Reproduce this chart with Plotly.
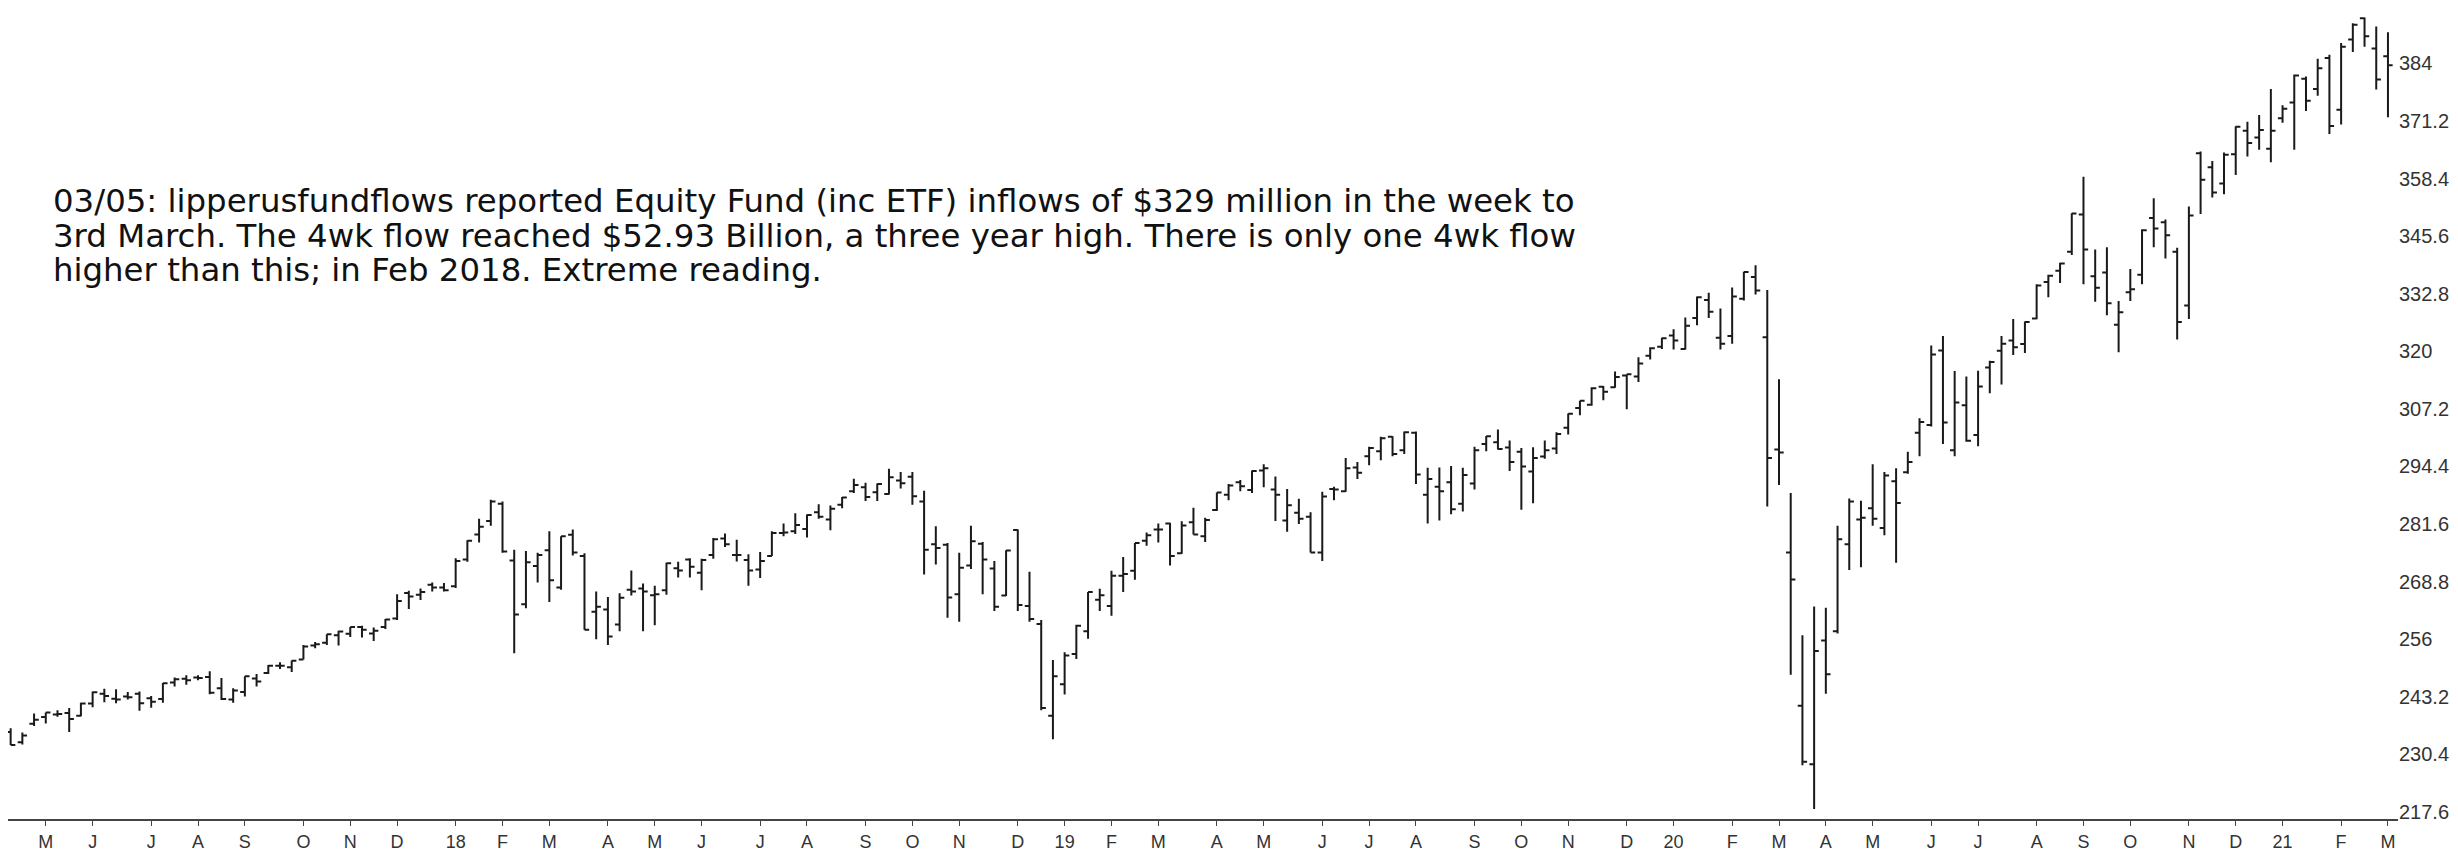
"""
Weekly SPY bar chart with the lipperusfundflows note (03/05/2021).
"""

import pandas as pd
import plotly.graph_objects as go

# weekly bars, Friday week-ending dates
WEEK_START = "2017-04-14"
N_WEEKS = 204

OPEN = [
    # 2017
    235.4, 233.1, 237.2, 238.7, 239.3, 239.6, 239.0, 241.7, 243.9, 242.8,
    243.3, 243.9, 242.9, 242.7, 246.4, 247.2, 247.5, 247.6, 245.1, 242.6,
    244.3, 247.3, 248.5, 250.1, 249.8, 251.5, 254.6, 255.2, 256.9, 257.2,
    258.7, 257.3, 258.7, 260.6, 266.3, 265.9, 268.1, 267.5,
    # 2018
    267.8, 273.7, 279.3, 282.3, 286.1, 273.5, 263.8, 272.3, 275.8, 267.5,
    279.2, 274.5, 262.1, 262.6, 259.3, 267.0, 267.3, 265.8, 266.9, 271.8,
    273.7, 270.8, 274.7, 278.4, 274.7, 273.6, 271.5, 274.5, 279.6, 280.0,
    280.5, 284.2, 282.6, 285.9, 288.9, 289.8, 288.7, 288.3, 291.3, 292.1,
    286.6, 277.1, 277.0, 266.0, 272.4, 277.2, 271.7, 265.7, 280.3, 263.4,
    259.4, 239.0,
    # 2019
    246.0, 252.7, 257.8, 264.8, 263.4, 270.1, 271.2, 277.9, 280.4, 281.7,
    275.1, 282.0, 278.9, 284.7, 288.1, 290.9, 289.2, 293.5, 289.3, 282.4,
    284.1, 283.2, 275.3, 289.4, 288.9, 294.2, 296.7, 297.8, 301.0, 298.0,
    301.9, 288.1, 289.9, 290.9, 286.1, 290.6, 299.4, 299.8, 298.6, 297.7,
    293.3, 296.6, 298.4, 303.0, 307.4, 308.1, 312.1, 312.0, 314.6, 314.4,
    319.0, 321.0,
    # 2020
    323.5, 320.5, 327.4, 331.4, 323.0, 323.4, 331.7, 336.5, 323.1, 298.2,
    275.3, 241.2, 228.2, 255.7, 257.8, 277.1, 282.6, 285.1, 280.7, 291.1,
    293.1, 301.9, 303.6, 320.2, 298.0, 308.0, 301.4, 316.4, 320.1, 322.4,
    321.6, 327.3, 335.4, 337.9, 342.1, 350.4, 336.7, 337.5, 325.9, 333.1,
    337.0, 349.6, 348.7, 342.1, 330.2, 364.0, 360.9, 357.3, 363.8, 369.0,
    367.5, 365.0, 371.8,
    # 2021
    375.3, 380.6, 378.3, 385.2, 373.7, 389.3, 394.0, 387.3, 385.6,
]

HIGH = [
    236.2, 235.3, 239.5, 239.7, 240.2, 240.7, 241.9, 244.4, 245.0, 244.9,
    244.3, 244.4, 243.4, 246.3, 247.5, 248.0, 248.0, 248.9, 247.4, 245.1,
    247.8, 248.3, 250.3, 250.9, 251.3, 254.7, 255.4, 257.1, 257.9, 258.7,
    259.0, 258.6, 260.5, 266.0, 266.8, 267.3, 268.6, 268.5,
    274.0, 278.0, 282.8, 287.0, 286.6, 275.9, 275.6, 275.2, 280.0, 278.9,
    280.4, 275.1, 266.6, 265.4, 266.2, 271.3, 268.4, 267.9, 273.0, 273.2,
    274.0, 273.9, 278.5, 279.5, 278.1, 274.9, 275.4, 280.0, 281.7, 284.0,
    283.7, 286.0, 285.7, 287.6, 291.7, 290.8, 290.6, 293.9, 293.2, 293.2,
    289.0, 281.1, 277.4, 275.2, 281.2, 277.6, 273.4, 275.8, 280.4, 271.0,
    260.3, 251.4,
    253.1, 259.2, 266.5, 267.2, 271.2, 274.3, 277.4, 279.7, 281.7, 281.9,
    282.2, 285.2, 283.0, 288.6, 290.5, 291.4, 293.5, 294.9, 292.2, 289.4,
    287.2, 284.2, 288.8, 289.9, 296.3, 295.4, 298.8, 301.0, 301.1, 302.2,
    302.2, 294.1, 294.2, 294.5, 294.1, 298.8, 301.2, 302.6, 300.2, 298.5,
    298.7, 300.2, 302.0, 306.2, 309.0, 312.0, 312.3, 315.5, 314.9, 318.7,
    320.9, 323.0,
    324.9, 327.5, 332.2, 333.0, 329.5, 334.2, 337.7, 339.1, 333.6, 313.8,
    288.5, 256.9, 263.3, 263.0, 281.2, 287.3, 286.8, 294.9, 293.2, 294.0,
    297.7, 305.1, 321.3, 323.4, 315.6, 314.4, 315.7, 317.9, 323.4, 327.2,
    326.6, 334.9, 337.0, 339.7, 350.7, 358.8, 342.6, 343.1, 331.2, 338.3,
    347.1, 354.0, 349.3, 343.0, 352.2, 364.4, 362.3, 364.2, 370.0, 371.0,
    372.5, 378.3, 374.7,
    381.5, 381.1, 385.0, 385.9, 388.5, 392.9, 394.2, 392.2, 390.9,
]

LOW = [
    232.5, 232.6, 236.7, 237.3, 238.8, 235.4, 238.9, 240.9, 242.0, 241.8,
    242.6, 240.1, 240.8, 241.9, 245.5, 245.9, 246.9, 243.8, 242.5, 241.9,
    243.3, 245.5, 248.3, 249.4, 248.7, 251.5, 254.0, 254.7, 254.6, 256.5,
    256.4, 255.6, 258.3, 260.3, 262.7, 264.7, 266.6, 266.6,
    267.4, 273.2, 277.5, 281.2, 275.2, 252.9, 262.9, 268.6, 264.3, 267.0,
    274.6, 258.1, 256.0, 254.7, 257.8, 265.7, 257.8, 259.1, 265.9, 269.7,
    269.7, 266.9, 273.9, 276.5, 273.3, 267.9, 269.6, 274.5, 278.9, 279.4,
    278.6, 282.8, 280.2, 285.1, 288.5, 286.7, 286.7, 288.2, 289.5, 285.9,
    270.4, 272.6, 260.8, 259.9, 271.6, 266.0, 262.3, 265.6, 262.3, 259.9,
    240.2, 233.8,
    243.7, 251.6, 256.1, 262.3, 261.2, 266.5, 269.2, 276.8, 277.5, 272.4,
    275.0, 279.3, 277.6, 284.5, 286.9, 288.9, 288.5, 289.8, 282.3, 279.9,
    281.6, 275.3, 273.4, 286.9, 288.8, 291.6, 294.7, 295.8, 296.7, 297.2,
    290.5, 281.7, 282.4, 283.8, 284.4, 289.3, 297.8, 298.2, 293.4, 284.8,
    286.2, 296.1, 297.2, 301.5, 305.8, 307.9, 309.1, 311.9, 307.1, 313.2,
    318.2, 320.5,
    320.4, 320.4, 325.8, 327.4, 320.4, 321.7, 331.3, 332.6, 285.5, 290.3,
    248.1, 228.0, 218.3, 243.9, 257.3, 271.4, 272.0, 281.2, 279.1, 273.0,
    292.8, 296.7, 303.3, 299.4, 296.7, 299.9, 298.9, 310.7, 312.6, 319.2,
    319.6, 327.1, 332.0, 335.2, 341.4, 334.9, 331.0, 328.0, 319.8, 331.2,
    334.9, 343.1, 340.6, 322.6, 327.2, 350.5, 354.2, 354.9, 359.2, 363.3,
    364.8, 362.0, 370.8,
    364.8, 373.4, 376.8, 368.3, 370.4, 386.5, 387.7, 378.2, 372.0,
]

CLOSE = [
    232.5, 234.6, 238.1, 239.7, 239.4, 238.3, 241.7, 244.2, 243.4, 242.6,
    243.1, 241.8, 242.1, 246.2, 247.1, 246.9, 247.4, 244.1, 242.7, 244.6,
    247.8, 246.6, 250.1, 250.1, 251.2, 254.4, 254.9, 257.1, 257.7, 258.7,
    258.1, 257.9, 260.4, 264.5, 265.5, 266.5, 267.5, 266.9,
    273.4, 277.9, 281.0, 286.6, 275.5, 261.5, 273.1, 274.7, 269.1, 278.9,
    275.3, 258.1, 263.2, 256.6, 265.2, 266.6, 266.6, 266.0, 272.9, 271.3,
    272.1, 273.6, 278.2, 277.1, 274.7, 271.3, 273.4, 279.6, 279.7, 281.4,
    283.6, 283.2, 285.0, 287.5, 290.3, 287.6, 290.5, 292.0, 290.7, 287.8,
    275.9, 276.3, 265.3, 271.9, 277.8, 273.7, 263.2, 275.7, 263.6, 260.5,
    240.7, 247.8,
    252.4, 259.0, 266.5, 265.8, 270.1, 270.5, 277.4, 279.1, 280.4, 274.5,
    281.3, 279.3, 282.5, 288.6, 290.2, 290.0, 293.4, 294.0, 288.1, 285.8,
    282.8, 275.3, 287.7, 289.3, 294.0, 293.0, 298.5, 300.7, 297.2, 302.0,
    292.6, 291.6, 288.9, 284.9, 292.5, 298.0, 301.1, 298.3, 295.4, 294.4,
    296.3, 298.0, 301.6, 306.1, 309.0, 311.8, 311.0, 314.3, 314.9, 317.3,
    320.7, 322.9,
    322.4, 325.7, 332.0, 328.8, 321.7, 332.2, 337.6, 333.5, 296.3, 297.5,
    269.3, 228.8, 253.4, 248.2, 278.2, 286.6, 283.0, 282.8, 292.4, 286.3,
    295.4, 304.3, 319.3, 304.2, 308.6, 300.1, 312.2, 317.6, 321.7, 320.9,
    326.5, 334.6, 336.8, 339.5, 350.6, 342.6, 334.1, 330.7, 328.7, 333.8,
    346.9, 347.3, 345.8, 326.5, 350.2, 358.1, 355.3, 363.7, 369.9, 366.3,
    369.2, 369.0, 373.9,
    381.3, 375.7, 382.9, 370.1, 387.7, 392.6, 390.0, 380.4, 383.6,
]

MONTH_LETTERS = ["J", "F", "M", "A", "M", "J", "J", "A", "S", "O", "N", "D"]

Y_TICK_VALUES = [217.6, 230.4, 243.2, 256, 268.8, 281.6, 294.4, 307.2,
                 320, 332.8, 345.6, 358.4, 371.2, 384]
Y_TICK_LABELS = ["217.6", "230.4", "243.2", "256", "268.8", "281.6", "294.4",
                 "307.2", "320", "332.8", "345.6", "358.4", "371.2", "384"]

NOTE_LINES = [
    "03/05: lipperusfundflows reported Equity Fund (inc ETF) inflows of $329 million in the week to",
    "3rd March. The 4wk flow reached $52.93 Billion, a three year high. There is only one 4wk flow",
    "higher than this; in Feb 2018. Extreme reading.",
]

Y_FONT = dict(family="Liberation Sans, Arial, sans-serif", size=20, color="#333333")
X_FONT = dict(family="Liberation Sans, Arial, sans-serif", size=18, color="#333333")
NOTE_FONT = dict(family="DejaVu Sans, Verdana, sans-serif", size=32.4, color="#111111")
BAR_COLOR = "#1a1a1a"

W, H = 2458, 851
M_L, M_R, M_T, M_B = 0, 68, 0, 40
PLOT_W = W - M_L - M_R
PLOT_H = H - M_T - M_B

dates = pd.date_range(WEEK_START, periods=N_WEEKS, freq="W-FRI")

# one tick at the first weekly bar of every month, year digits for January
tick_vals, tick_text = [], []
for i in range(1, len(dates)):
    if dates[i].month != dates[i - 1].month:
        tick_vals.append(dates[i])
        if dates[i].month == 1:
            tick_text.append(dates[i].strftime("%y"))
        else:
            tick_text.append(MONTH_LETTERS[dates[i].month - 1])

fig = go.Figure(go.Ohlc(
    x=dates, open=OPEN, high=HIGH, low=LOW, close=CLOSE,
    increasing=dict(line=dict(color=BAR_COLOR, width=2)),
    decreasing=dict(line=dict(color=BAR_COLOR, width=2)),
    tickwidth=0.4, hoverinfo="x+y",
))

x_lo = dates[0] - pd.Timedelta(hours=38)
x_hi = dates[-1] + pd.Timedelta(days=6)

fig.update_layout(
    width=W, height=H,
    paper_bgcolor="white", plot_bgcolor="white",
    margin=dict(l=M_L, r=M_R, t=M_T, b=M_B),
    showlegend=False,
    xaxis=dict(
        type="date", range=[x_lo, x_hi], rangeslider=dict(visible=False),
        tickmode="array", tickvals=tick_vals, ticktext=tick_text,
        ticks="outside", ticklen=5, tickwidth=1, tickcolor="#444444",
        showline=True, linecolor="#444444", linewidth=2,
        showgrid=False, zeroline=False, tickfont=X_FONT,
    ),
    yaxis=dict(
        side="right", range=[216.05, 396.3],
        tickmode="array", tickvals=Y_TICK_VALUES, ticktext=Y_TICK_LABELS,
        ticks="", ticklabelstandoff=0,
        showline=False, showgrid=False, zeroline=False, tickfont=Y_FONT,
    ),
)

# note lines, 34.5 px apart, centred on y = 193 / 227 / 262 px from the top
for k, line in enumerate(NOTE_LINES):
    y_px = 193 + 34.5 * k
    fig.add_annotation(
        text=line, xref="paper", yref="paper",
        x=43 / PLOT_W, y=1 - (y_px - M_T) / PLOT_H,
        xanchor="left", yanchor="middle", align="left", showarrow=False,
        font=NOTE_FONT,
    )

fig.write_html("out.html")
